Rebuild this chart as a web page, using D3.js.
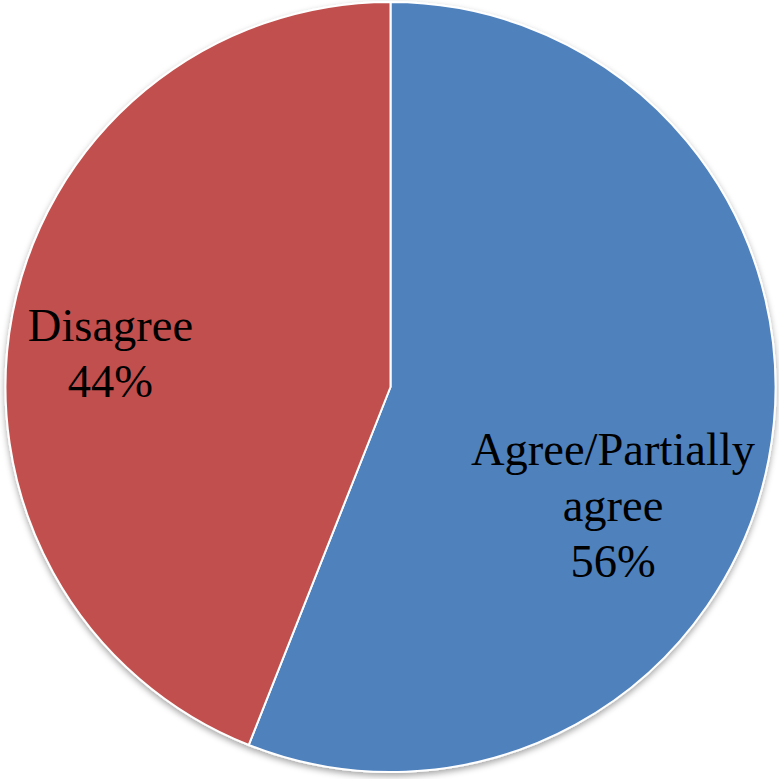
<!DOCTYPE html>
<html>
<head>
<meta charset="utf-8">
<script src="https://cdn.jsdelivr.net/npm/d3@7"></script>
<style>
  body { margin: 0; background: #fff; }
</style>
</head>
<body>
<div id="chart"></div>
<script>
// datos del gráfico
const categories = ["Agree/Partially agree", "Disagree"];
const labelLines = [["Agree/Partially", "agree"], ["Disagree"]];
const values = [56, 44];
const colors = ["#4F81BD", "#C0504D"];

const width = 779;
const height = 779;
const cx = 390.5, cy = 387, radius = 385;

const svg = d3.select("#chart")
  .append("svg")
  .attr("width", width)
  .attr("height", height);

// sombrita suave como en Excel
const defs = svg.append("defs");
const f = defs.append("filter").attr("id", "shadow")
  .attr("x", "-10%").attr("y", "-10%").attr("width", "120%").attr("height", "120%");
f.append("feDropShadow")
  .attr("dx", 0).attr("dy", 3).attr("stdDeviation", 3)
  .attr("flood-color", "#000").attr("flood-opacity", 0.35);

const g = svg.append("g").attr("transform", `translate(${cx},${cy})`);

const pie = d3.pie().sort(null).value((d) => d.value);
const arcs = pie(values.map((v, i) => ({ name: categories[i], value: v, i })));

const arc = d3.arc().innerRadius(0).outerRadius(radius);

g.append("g").attr("filter", "url(#shadow)")
  .selectAll("path")
  .data(arcs)
  .join("path")
  .attr("d", arc)
  .attr("fill", (d) => colors[d.data.i])
  .attr("stroke", "#fff")
  .attr("stroke-width", 2)
  .attr("stroke-linejoin", "round");

// etiquetas: ángulo y radio de anclaje (Excel las mueve un poco)
const labelArc = (d) => {
  const shift = d.data.i === 0 ? 0.3 : -0.07;
  const r = d.data.i === 0 ? 252 : 282;
  const a = (d.startAngle + d.endAngle) / 2 + shift;
  return [Math.sin(a) * r, -Math.cos(a) * r];
};

const lineH = 56;
const fontSize = 46.5;

const labels = g.selectAll("text.lbl")
  .data(arcs)
  .join("text")
  .attr("class", "lbl")
  .attr("text-anchor", "middle")
  .attr("font-family", "'Liberation Serif', 'Times New Roman', serif")
  .attr("font-size", fontSize)
  .attr("fill", "#000");

labels.each(function (d) {
  const [x, y] = labelArc(d);
  const lines = labelLines[d.data.i].concat([d3.format(".0f")(d.data.value) + "%"]);
  const top = y - ((lines.length - 1) * lineH) / 2 + fontSize * 0.33;
  d3.select(this).selectAll("tspan")
    .data(lines)
    .join("tspan")
    .attr("x", x)
    .attr("y", (l, k) => top + k * lineH)
    .text((l) => l);
});
</script>
</body>
</html>
